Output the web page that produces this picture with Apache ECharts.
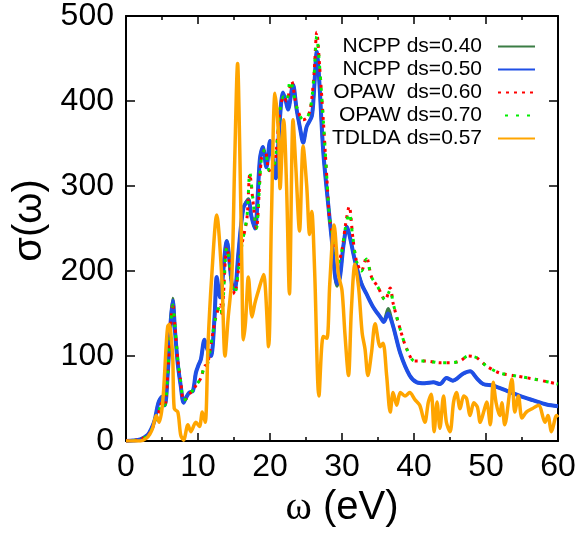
<!DOCTYPE html>
<html>
<head>
<meta charset="utf-8">
<script src="https://cdn.jsdelivr.net/npm/echarts@6/dist/echarts.min.js"></script>
<style>
  html, body { margin: 0; padding: 0; background: #fff; }
  #chart { width: 579px; height: 533px; }
</style>
</head>
<body>
<div id="chart"></div>
<script>
(function() {
  // series names (legend order)
  var names = ['NCPP ds=0.40', 'NCPP ds=0.50', 'OPAW  ds=0.60', 'OPAW ds=0.70', 'TDLDA ds=0.57'];

  // [omega (eV), sigma]
  var ncpp040 = [[0,0],[1,0.5],[2,2],[3,7],[3.5,14],[4,25],[4.5,45],[5,52],[5.4,42],[5.8,80],[6.2,142],[6.5,168],[6.8,132],[7.2,90],[7.6,65],[8,45],[8.4,52],[8.8,57],[9.3,59],[9.7,80],[10.1,90],[10.4,96],[10.9,118],[11.3,108],[11.8,100],[12.3,146],[12.6,190],[13.05,170],[14,236],[14.7,185],[15.1,178],[15.6,220],[16.3,274],[17,285],[17.4,265],[17.9,250],[18.6,332],[19,346],[19.5,322],[20,353],[20.4,330],[20.8,309],[21.3,370],[21.8,410],[22.2,400],[22.5,390],[23.2,419],[23.7,390],[24.2,367],[24.6,351],[25.1,370],[25.8,382],[26.1,410],[26.5,458],[26.8,430],[27.4,340],[28.1,277],[28.6,235],[29.3,182],[29.7,192],[30.2,230],[30.7,252],[31.1,240],[31.8,212],[32.7,186],[33.4,173],[34.3,158],[35.3,146],[35.8,142],[36.4,156],[37.1,135],[38.1,103],[39.4,77],[40.4,69],[41.5,68],[42.7,69],[43.6,67],[44.5,74],[45.4,71],[46.8,79],[47.8,82],[48.7,74],[49.6,67],[51,65],[52.9,59],[54.7,53],[56.5,48],[58.4,43],[60,41]];
  var ncpp050 = [[0,0],[1,0.5],[2,2],[3,7],[3.5,14],[4,25],[4.5,45],[5,52],[5.4,42],[5.8,80],[6.2,140],[6.5,165],[6.8,130],[7.2,90],[7.6,65],[8,45],[8.4,52],[8.8,57],[9.3,59],[9.7,80],[10.1,90],[10.4,96],[10.9,119],[11.3,108],[11.8,100],[12.3,146],[12.6,193],[13.05,169],[14,235],[14.7,185],[15.1,178],[15.6,220],[16.3,274],[17,283],[17.4,265],[17.9,250],[18.6,332],[19,346],[19.5,322],[20,353],[20.4,330],[20.8,309],[21.3,370],[21.8,410],[22.2,400],[22.5,390],[23.2,419],[23.7,390],[24.2,367],[24.6,351],[25.1,370],[25.8,382],[26.1,410],[26.5,458],[26.8,430],[27.4,340],[28.1,277],[28.6,235],[29.3,185],[29.7,192],[30.2,230],[30.7,252],[31.1,240],[31.8,212],[32.7,185],[33.4,173],[34.3,158],[35.3,146],[35.8,140],[36.4,150],[37.1,135],[38.1,103],[39.4,77],[40.4,69],[41.5,68],[42.7,69],[43.6,67],[44.5,74],[45.4,71],[46.8,79],[47.8,82],[48.7,74],[49.6,67],[51,65],[52.9,59],[54.7,53],[56.5,48],[58.4,43],[60,41]];
  var opaw060 = [[0,0],[1,0.5],[2,2],[3,6],[3.5,12],[4,22],[4.5,32],[5,45],[5.4,42],[5.8,80],[6.2,135],[6.5,162],[6.8,135],[7.2,95],[7.6,70],[8,48],[8.4,50],[8.8,55],[9.3,60],[9.7,65],[10.4,74],[10.9,88],[11.3,90],[11.7,108],[12.4,143],[13.1,160],[13.3,150],[14,228],[14.3,215],[14.7,185],[15.1,173],[15.6,200],[16.1,231],[16.8,262],[17.2,314],[17.6,285],[18.1,250],[18.8,332],[19.3,343],[19.9,318],[20.3,322],[20.7,328],[21.4,390],[21.9,405],[22.3,400],[23,423],[23.7,393],[24.6,378],[25.1,380],[25.6,390],[26.1,430],[26.5,481],[26.9,440],[27.4,378],[27.9,309],[28.3,260],[28.9,235],[29.5,210],[30,225],[30.5,255],[31,276],[31.5,240],[32,212],[32.7,200],[33.4,216],[34.1,193],[35,181],[36,166],[36.7,180],[37.1,162],[38.1,131],[39,108],[40.1,94],[41.8,94],[43.6,92],[45,92],[46.4,94],[47.5,100],[48.7,98],[50.1,88],[51.9,80],[53.8,77],[56.6,73],[60,67]];
  var opaw070 = [[0,0],[1,0.5],[2,2],[3,6],[3.5,12],[4,22],[4.5,32],[5,45],[5.4,42],[5.8,80],[6.2,135],[6.5,160],[6.8,135],[7.2,95],[7.6,70],[8,48],[8.4,50],[8.8,55],[9.3,60],[9.7,65],[10.4,74],[10.9,88],[11.3,90],[11.7,108],[12.4,143],[13.1,160],[13.3,150],[14,228],[14.3,215],[14.7,185],[15.1,173],[15.6,200],[16.1,231],[16.8,264],[17.2,316],[17.6,287],[18.1,250],[18.8,332],[19.3,343],[19.9,318],[20.3,322],[20.7,328],[21.4,390],[21.9,405],[22.3,400],[22.8,424],[23.7,393],[24.6,378],[25.1,380],[25.6,390],[26.1,428],[26.5,476],[26.9,440],[27.4,378],[27.9,309],[28.3,260],[28.9,235],[29.5,210],[30,225],[30.5,252],[31,268],[31.5,240],[32,212],[32.7,200],[33.4,214],[34.1,193],[35,181],[36,166],[36.7,178],[37.1,162],[38.1,131],[39,108],[40.1,94],[41.8,94],[43.6,92],[45,92],[46.4,94],[47.5,100],[48.7,98],[50.1,88],[51.9,80],[53.8,77],[56.6,73],[60,67]];
  var tdlda = [[0,0],[2,0],[2.8,3],[3.3,8],[3.7,15],[4.2,30],[4.6,22],[5.1,46],[5.6,115],[5.8,135],[6,137],[6.3,120],[6.5,96],[6.7,38],[7.2,34],[7.6,7],[8,1],[8.6,19],[9,11],[9.7,22],[10.2,17],[10.6,34],[11,22],[11.4,115],[11.9,193],[12.6,266],[13.3,193],[13.75,100],[14.2,146],[14.7,193],[15.1,330],[15.5,444],[15.8,343],[16.1,200],[16.3,119],[16.6,140],[17,193],[17.5,146],[17.9,162],[18.4,177],[19.1,196],[19.8,111],[20.2,262],[20.7,409],[21.2,359],[21.4,297],[21.9,378],[22.3,300],[22.7,173],[23.2,378],[23.6,320],[24.1,247],[24.6,347],[25.1,300],[25.5,243],[25.8,270],[26.2,200],[26.8,53],[27.4,123],[27.9,121],[28.3,185],[28.9,254],[29.5,196],[30,177],[30.4,127],[30.9,77],[31.3,154],[31.8,208],[32.3,181],[32.8,127],[33.2,108],[33.6,77],[34.1,104],[34.6,138],[35.3,111],[35.7,115],[36.2,77],[36.7,34],[37.1,57],[37.6,42],[38.1,57],[38.75,53],[39.4,57],[40.1,49],[40.8,42],[41.5,22],[42,46],[42.4,55],[42.8,11],[43.2,46],[43.6,15],[44.1,53],[44.5,22],[45,11],[45.5,46],[45.9,57],[46.4,38],[46.9,53],[47.3,50],[47.8,30],[48.3,45],[48.8,40],[49.2,22],[49.7,35],[50.1,46],[50.6,19],[51,69],[51.4,45],[51.9,30],[52.2,45],[52.6,19],[53.6,73],[54,34],[54.5,53],[55,27],[55.6,34],[56.4,38],[57.3,42],[58.2,22],[58.6,30],[59.1,11],[59.8,30],[60,28]];

  var font = 'Liberation Sans, Arial, sans-serif';
  var ink = '#000';

  function xAx(pos, showLabel) {
    return {
      type: 'value', position: pos, min: 0, max: 60, interval: 10,
      axisLine: { show: true, onZero: false, lineStyle: { color: ink, width: 2 } },
      axisTick: { show: true, inside: true, length: 8, lineStyle: { color: ink, width: 1.5 } },
      minorTick: { show: true, splitNumber: 2, length: 4, lineStyle: { color: ink, width: 1.5 } },
      axisLabel: { show: showLabel, color: ink, fontSize: 32, fontFamily: font, margin: 10 },
      splitLine: { show: false }
    };
  }
  function yAx(pos, showLabel) {
    return {
      type: 'value', position: pos, min: 0, max: 500, interval: 100,
      axisLine: { show: true, onZero: false, lineStyle: { color: ink, width: 2 } },
      axisTick: { show: true, inside: true, length: 9, lineStyle: { color: ink, width: 1.5 } },
      axisLabel: { show: showLabel, color: ink, fontSize: 32, fontFamily: font, margin: 12 },
      splitLine: { show: false }
    };
  }

  var xBottom = xAx('bottom', true);
  xBottom.name = '{w|ω}{t| (eV)}';
  xBottom.nameLocation = 'middle';
  xBottom.nameGap = 47;
  xBottom.nameTextStyle = {
    rich: {
      w: { fontFamily: 'Liberation Serif, Times New Roman, serif', fontSize: 40, color: ink },
      t: { fontFamily: font, fontSize: 40, color: ink }
    }
  };
  var yLeft = yAx('left', true);
  yLeft.name = 'σ(ω)';
  yLeft.nameLocation = 'middle';
  yLeft.nameGap = 76;
  yLeft.nameTextStyle = { fontFamily: font, fontSize: 40, color: ink, padding: [0, 0, 0, 16] };

  function line(name, data, color, width, type, offset) {
    return {
      name: name, type: 'line', data: data, xAxisIndex: 0, yAxisIndex: 0,
      smooth: 0.3, showSymbol: false, symbol: 'none',
      lineStyle: { color: color, width: width, type: type, dashOffset: offset || 0, cap: 'butt' },
      itemStyle: { color: color }
    };
  }

  var chart = echarts.init(document.getElementById('chart'), null, { renderer: 'canvas' });
  chart.setOption({
    animation: false,
    backgroundColor: '#fff',
    grid: { left: 126, right: 21, top: 15, bottom: 87 },
    xAxis: [xBottom, xAx('top', false)],
    yAxis: [yLeft, yAx('right', false)],
    legend: {
      data: names, orient: 'vertical', align: 'right',
      right: 43, top: 35, padding: 0, itemGap: 0,
      itemWidth: 37, itemHeight: 22,
      itemStyle: { opacity: 0 },
      textStyle: { color: ink, fontSize: 21, fontFamily: font, padding: [1, 11, 0, 0], lineHeight: 22 }
    },
    series: [
      line(names[0], ncpp040, '#3b7d45', 3, 'solid'),
      line(names[1], ncpp050, '#1f4fe6', 4, 'solid'),
      line(names[2], opaw060, '#ff0000', 3, [3, 5], 0),
      line(names[3], opaw070, '#00ee00', 3, [3, 8], 4),
      line(names[4], tdlda, '#ffa500', 3.5, 'solid')
    ]
  });
})();
</script>
</body>
</html>
